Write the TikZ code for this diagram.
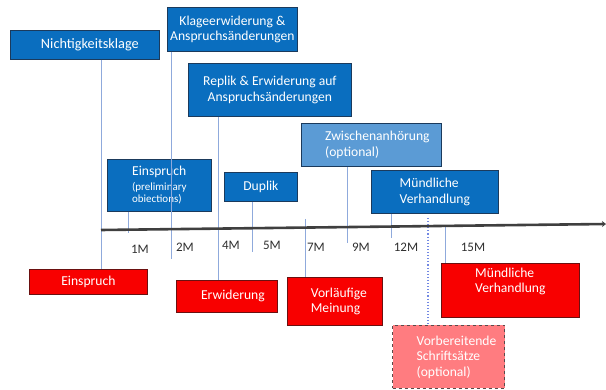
\documentclass[tikz,border=0pt]{standalone}
\usepackage{fontspec}
\setmainfont{Carlito}
\usetikzlibrary{arrows.meta,calc}
\definecolor{bluefill}{HTML}{0A6EBF}
\definecolor{blueedge}{HTML}{1B3A5C}
\definecolor{lightfill}{HTML}{5B9BD5}
\definecolor{redfill}{HTML}{F80000}
\definecolor{rededge}{HTML}{6B1010}
\definecolor{pinkfill}{HTML}{FF7C80}
\definecolor{pinkedge}{HTML}{5A4A4A}
\definecolor{connc}{HTML}{8FAADC}
\definecolor{axisc}{HTML}{3F3F3F}
\definecolor{tickc}{HTML}{2F2F2F}
\newcommand{\smallfnt}{\fontsize{11}{12}\selectfont}
\begin{document}
\begin{tikzpicture}[x=1pt,y=-1pt,
  font=\fontsize{13.6}{15.5}\selectfont,
  box/.style={anchor=north west, inner sep=0pt, text=white, line width=0.8pt},
  bluebox/.style={box, draw=blueedge, fill=bluefill},
  lightbox/.style={box, draw=blueedge, fill=lightfill},
  redbox/.style={box, draw=rededge, fill=redfill},
  pinkbox/.style={box, draw=pinkedge, fill=pinkfill, dashed, line width=1pt},
  conn/.style={draw=connc, line width=1pt},
  dotconn/.style={draw=connc!80!blue, line width=1.1pt, dotted},
  tick/.style={text=tickc, font=\fontsize{13}{14}\selectfont, inner sep=0pt}
]
\useasboundingbox (0,0) rectangle (606,390);

% coordinates for free ends
\coordinate (ax1) at (101,230);
\coordinate (ax2) at (606,224);
\coordinate (e2) at (171,259);
\coordinate (e1) at (128,233);
\coordinate (e5) at (252,252);
\coordinate (e9) at (347,243);
\coordinate (e12) at (391,238);
\coordinate (s7) at (305,219);
\coordinate (s15) at (445,227);
\coordinate (sd) at (428,218);

% boxes
\node[bluebox, minimum width=149pt, minimum height=29pt, font=\fontsize{14.3}{15.5}\selectfont] (nk) at (10,30) {\hspace*{10pt}Nichtigkeitsklage};
\node[bluebox, minimum width=130pt, minimum height=44pt, align=center] (ke) at (167,7) {Klageerwiderung \&\\Anspruchsänderungen};
\node[bluebox, minimum width=163pt, minimum height=53pt, align=center] (re) at (188,63) {Replik \& Erwiderung auf\\Anspruchsänderungen};
\node[bluebox, minimum width=104pt, minimum height=52pt, align=left] (ei) at (107,159) {Einspruch\\[-0.5pt]\smallfnt (preliminary\\[-3.5pt]\smallfnt obiections)};
\node[bluebox, minimum width=73pt, minimum height=29pt] (du) at (224,172) {Duplik};
\node[lightbox, minimum width=140pt, minimum height=43pt, align=left] (zw) at (301,123) {\hspace*{12pt}Zwischenanhörung\\\hspace*{12pt}(optional)};
\node[bluebox, minimum width=127pt, minimum height=43pt, align=left] (mv) at (371,170) {Mündliche\\Verhandlung};

\node[redbox, minimum width=118pt, minimum height=25pt] (rei) at (29,269) {Einspruch};
\node[redbox, minimum width=101pt, minimum height=32pt] (rer) at (176,280) {\hspace*{12pt}Erwiderung};
\node[redbox, minimum width=95pt, minimum height=48pt, align=left] (rvm) at (287,277) {\hspace*{8pt}Vorläufige\\\hspace*{8pt}Meinung};
\node[redbox, minimum width=138pt, minimum height=54pt, align=left] (rmv) at (441,263) {Mündliche\\Verhandlung\\[5pt]};
\node[pinkbox, minimum width=112pt, minimum height=63pt, align=left] (vs) at (392,325) {\hspace*{16pt}Vorbereitende\\\hspace*{16pt}Schriftsätze\\\hspace*{16pt}(optional)};

% connectors
\draw[conn] ([xshift=91pt]nk.south west) coordinate (c1) -- (c1 |- rei.north);
\draw[conn] ([xshift=4pt]ke.south west) coordinate (c2) -- (c2 |- e2);
\draw[conn] ([xshift=30pt]re.south west) coordinate (c3) -- (c3 |- rer.north);
\draw[conn] ([xshift=21pt]ei.south west) coordinate (c4) -- (c4 |- e1);
\draw[conn] ([xshift=28pt]du.south west) coordinate (c5) -- (c5 |- e5);
\draw[conn] ([xshift=46pt]zw.south west) coordinate (c6) -- (c6 |- e9);
\draw[conn] ([xshift=20pt]mv.south west) coordinate (c7) -- (c7 |- e12);
\draw[conn] (s7) -- (s7 |- rvm.north);
\draw[conn] (s15) -- (s15 |- rmv.north);
\draw[dotconn] (sd) -- (sd |- vs.north);

% axis
\draw[draw=axisc, line width=2.6pt, -{Stealth[length=4pt,width=6pt]}] (ax1) -- (ax2);

% tick labels
\node[tick] (t1) at (140,249) {1M};
\node[tick] (t2) at (185,247) {2M};
\node[tick] (t4) at (231,245) {4M};
\node[tick] (t5) at (272,245) {5M};
\node[tick] (t7) at (316,247) {7M};
\node[tick] (t9) at (361,247) {9M};
\node[tick] (t12) at (406,247) {12M};
\node[tick] (t15) at (473,247) {15M};
\end{tikzpicture}
\end{document}
